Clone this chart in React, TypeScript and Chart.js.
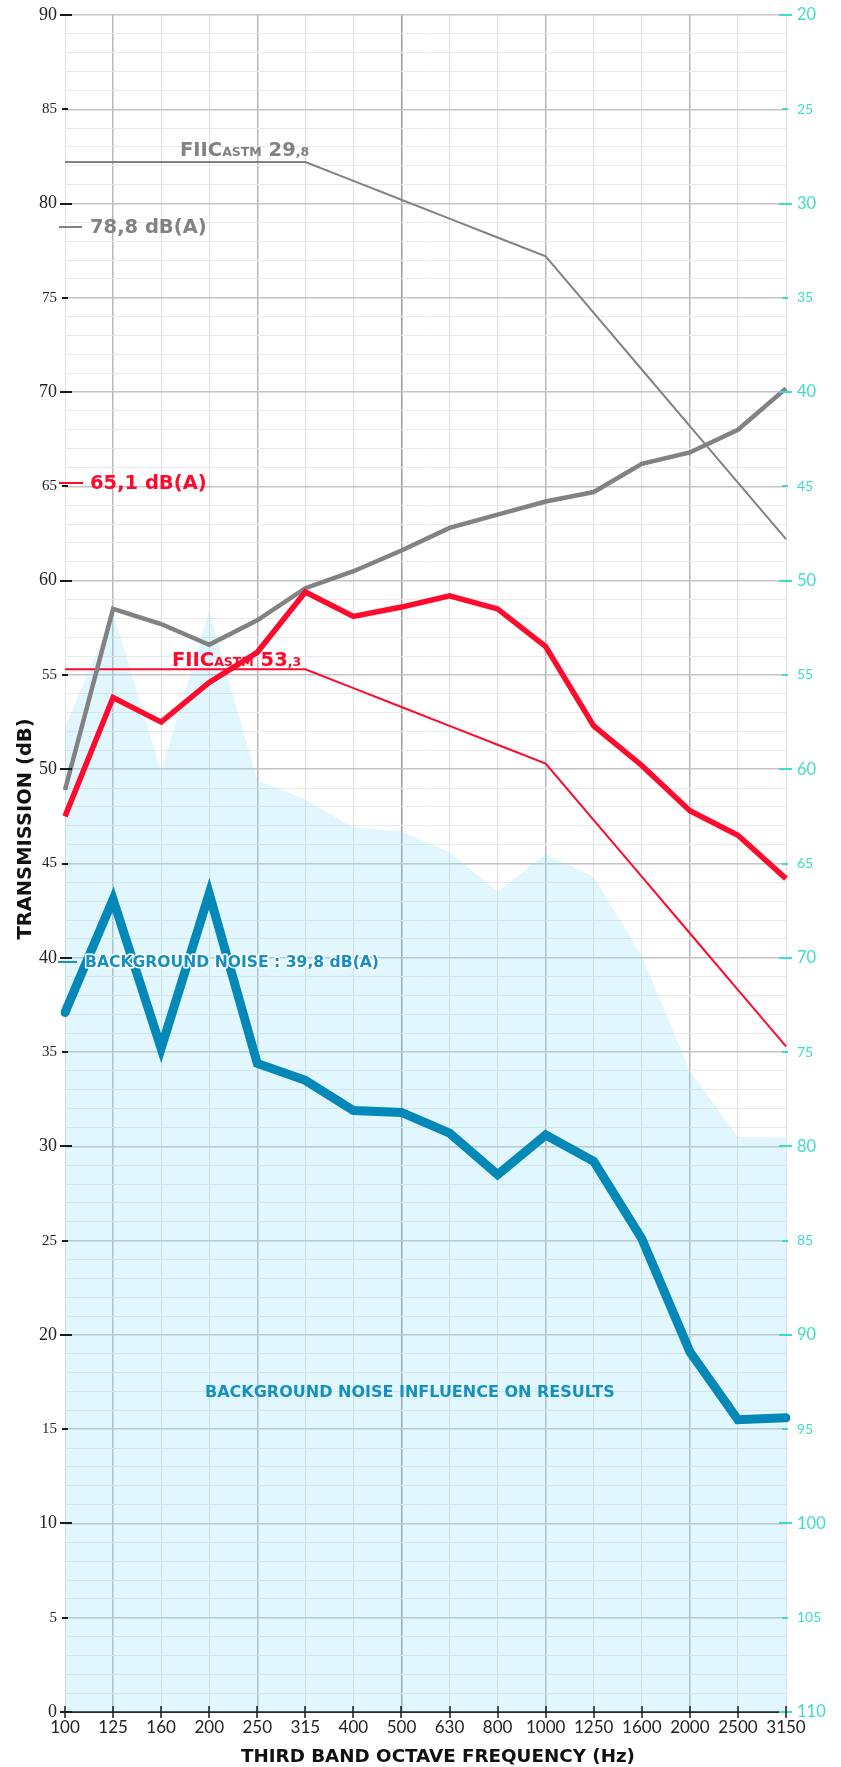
import React, { useEffect, useRef } from 'react';
import { Chart, registerables } from 'chart.js';

Chart.register(...registerables);

const frequencies = ['100', '125', '160', '200', '250', '315', '400', '500', '630', '800', '1000', '1250', '1600', '2000', '2500', '3150'];
const transmissionGray = [48.9, 58.5, 57.7, 56.6, 57.9, 59.6, 60.5, 61.6, 62.8, 63.5, 64.2, 64.7, 66.2, 66.8, 68.0, 70.2];
const contourGray = [82.2, 82.2, 82.2, 82.2, 82.2, 82.2, 81.2, 80.2, 79.2, 78.2, 77.2, 74.2, 71.2, 68.2, 65.2, 62.2];
const transmissionRed = [47.5, 53.8, 52.5, 54.6, 56.2, 59.4, 58.1, 58.6, 59.2, 58.5, 56.5, 52.3, 50.2, 47.8, 46.5, 44.2];
const contourRed = [55.3, 55.3, 55.3, 55.3, 55.3, 55.3, 54.3, 53.3, 52.3, 51.3, 50.3, 47.3, 44.3, 41.3, 38.3, 35.3];
const backgroundNoise = [37.1, 43.1, 35.2, 43.4, 34.4, 33.5, 31.9, 31.8, 30.7, 28.5, 30.6, 29.2, 25.1, 19.1, 15.5, 15.6];
const noiseInfluence = [52.2, 58.3, 49.9, 58.4, 49.4, 48.4, 46.9, 46.7, 45.6, 43.5, 45.5, 44.3, 40.1, 34.0, 30.5, 30.5];

const leftTickValues = [0, 5, 10, 15, 20, 25, 30, 35, 40, 45, 50, 55, 60, 65, 70, 75, 80, 85, 90];
const rightTickValues = [20, 25, 30, 35, 40, 45, 50, 55, 60, 65, 70, 75, 80, 85, 90, 95, 100, 105, 110];
const octaveLines = ['125', '250', '1000', '2000'];
const centerLine = '500';

const GRAY = '#828282';
const RED = '#ff0a2d';
const BLUE = '#0488b8';
const BLUE_TEXT = '#1590c0';
const CYAN = '#3fdcc8';
const BOLD = '"DejaVu Sans", sans-serif';

function rich(ctx: CanvasRenderingContext2D, x: number, y: number, parts: [string, number][], color: string) {
  ctx.fillStyle = color;
  ctx.textAlign = 'left';
  ctx.textBaseline = 'alphabetic';
  let cx = x;
  for (const [t, size] of parts) {
    ctx.font = `bold ${size}px ${BOLD}`;
    ctx.fillText(t, cx, y);
    cx += ctx.measureText(t).width;
  }
}

function dash(ctx: CanvasRenderingContext2D, x1: number, x2: number, y: number, color: string) {
  ctx.strokeStyle = color;
  ctx.lineWidth = 2;
  ctx.beginPath();
  ctx.moveTo(x1, y);
  ctx.lineTo(x2, y);
  ctx.stroke();
}

const noPad = (s: any) => {
  s.paddingTop = 0;
  s.paddingBottom = 0;
  s.paddingLeft = 0;
  s.paddingRight = 0;
};

const overlay = {
  id: 'overlay',
  afterDatasetsDraw(chart: any) {
    const ctx: CanvasRenderingContext2D = chart.ctx;
    ctx.save();
    rich(ctx, 180, 156, [['FIIC', 19.5], ['ASTM', 12.5], [' 29', 19.5], [',8', 12.5]], GRAY);
    dash(ctx, 59, 82, 227, GRAY);
    rich(ctx, 90, 233, [['78,8 dB(A)', 19.5]], GRAY);
    dash(ctx, 59, 83, 483, RED);
    rich(ctx, 90, 489, [['65,1 dB(A)', 19.5]], RED);
    rich(ctx, 172, 666, [['FIIC', 19.5], ['ASTM', 12.5], [' 53', 19.5], [',3', 12.5]], RED);
    dash(ctx, 58, 77, 962, BLUE_TEXT);
    ctx.font = `bold 15.6px ${BOLD}`;
    ctx.textAlign = 'left';
    ctx.textBaseline = 'alphabetic';
    ctx.lineJoin = 'round';
    ctx.strokeStyle = '#ffffff';
    ctx.lineWidth = 3;
    ctx.strokeText('BACKGROUND NOISE : 39,8 dB(A)', 85, 967);
    ctx.fillStyle = BLUE_TEXT;
    ctx.fillText('BACKGROUND NOISE : 39,8 dB(A)', 85, 967);
    ctx.font = `bold 16px ${BOLD}`;
    ctx.fillStyle = BLUE_TEXT;
    ctx.fillText('BACKGROUND NOISE INFLUENCE ON RESULTS', 205, 1397);
    ctx.restore();
  },
  afterDraw(chart: any) {
    const ctx: CanvasRenderingContext2D = chart.ctx;
    const y = chart.scales.y;
    const y2 = chart.scales.y2;
    const x = chart.scales.x;
    const { left, right, bottom } = chart.chartArea;
    ctx.save();
    ctx.strokeStyle = '#1a1a1a';
    ctx.lineWidth = 2;
    for (const v of leftTickValues) {
      const py = Math.round(y.getPixelForValue(v));
      const long = v % 10 === 0;
      ctx.beginPath();
      ctx.moveTo(left - (long ? 5 : 3), py);
      ctx.lineTo(left + (long ? 7 : 3), py);
      ctx.stroke();
    }
    ctx.strokeStyle = CYAN;
    for (const v of rightTickValues) {
      const py = Math.round(y2.getPixelForValue(v));
      const long = v % 10 === 0;
      ctx.beginPath();
      ctx.moveTo(right - (long ? 7 : 4), py);
      ctx.lineTo(right + (long ? 6 : 2), py);
      ctx.stroke();
    }
    ctx.strokeStyle = '#1a1a1a';
    ctx.lineWidth = 1.5;
    frequencies.forEach((_, i) => {
      const px = Math.round(x.getPixelForValue(i));
      ctx.beginPath();
      ctx.moveTo(px, bottom - 6);
      ctx.lineTo(px, bottom + 6);
      ctx.stroke();
    });
    ctx.fillStyle = '#111';
    ctx.font = `bold 18.3px ${BOLD}`;
    ctx.textAlign = 'left';
    ctx.textBaseline = 'alphabetic';
    ctx.fillText('THIRD BAND OCTAVE FREQUENCY (Hz)', 241, 1762);
    ctx.save();
    ctx.translate(31, 829);
    ctx.rotate(-Math.PI / 2);
    ctx.textAlign = 'center';
    ctx.font = `bold 19.5px ${BOLD}`;
    ctx.fillText('TRANSMISSION (dB)', 0, 0);
    ctx.restore();
    ctx.restore();
  },
};

export default function App() {
  const ref = useRef<HTMLCanvasElement | null>(null);
  useEffect(() => {
    document.body.style.margin = '0';
    if (!ref.current) return;
    const chart = new Chart(ref.current, {
      type: 'line',
      data: {
        labels: frequencies,
        datasets: [
          { label: 'Transmission red', data: transmissionRed, borderColor: RED, borderWidth: 5.5, pointRadius: 0, fill: false, tension: 0, order: 1 },
          { label: 'Transmission gray', data: transmissionGray, borderColor: GRAY, borderWidth: 4.5, pointRadius: 0, fill: false, tension: 0, order: 2 },
          { label: 'FIIC red', data: contourRed, borderColor: RED, borderWidth: 2, pointRadius: 0, fill: false, tension: 0, order: 3 },
          { label: 'FIIC gray', data: contourGray, borderColor: GRAY, borderWidth: 2, pointRadius: 0, fill: false, tension: 0, order: 4 },
          { label: 'Background noise', data: backgroundNoise, borderColor: BLUE, borderWidth: 9, borderCapStyle: 'round', borderJoinStyle: 'miter', pointRadius: 0, fill: false, tension: 0, order: 5 },
          { label: 'Noise influence', data: noiseInfluence, borderWidth: 0, borderColor: 'rgba(0,0,0,0)', backgroundColor: 'rgba(140,222,246,0.26)', pointRadius: 0, fill: 'origin', tension: 0, order: 6 },
        ],
      },
      options: {
        responsive: false,
        animation: false,
        devicePixelRatio: 1,
        layout: { padding: { top: 15, left: 0, right: 0, bottom: 0 } },
        plugins: { legend: { display: false }, tooltip: { enabled: false }, title: { display: false } },
        scales: {
          x: {
            type: 'category',
            offset: false,
            afterFit: (s: any) => { s.height = 55; noPad(s); },
            grid: {
              drawTicks: false,
              color: (c: any) => {
                const lab = frequencies[c.index];
                if (lab === centerLine) return '#9a9a9a';
                if (octaveLines.includes(lab)) return '#b8b8b8';
                return '#e0e0e0';
              },
              lineWidth: (c: any) => {
                const lab = frequencies[c.index];
                return lab === centerLine || octaveLines.includes(lab) ? 1.5 : 1;
              },
            },
            border: { display: true, color: '#2a2a2a', width: 2 },
            ticks: {
              color: '#222',
              font: { family: 'Lato, sans-serif', size: 17 },
              padding: 5,
              autoSkip: false,
              maxRotation: 0,
            },
          },
          y: {
            position: 'left',
            min: 0,
            max: 90,
            afterFit: (s: any) => { s.width = 65; noPad(s); },
            border: { display: false },
            grid: {
              drawTicks: false,
              color: (c: any) => (c.tick.value % 5 === 0 ? '#c4c4c4' : '#e9e9e9'),
              lineWidth: (c: any) => (c.tick.value % 5 === 0 ? 1.5 : 1),
            },
            ticks: {
              stepSize: 1,
              autoSkip: false,
              padding: 8,
              color: '#222',
              font: (c: any) => ({ family: '"Liberation Serif", serif', size: c.tick && c.tick.value % 10 === 0 ? 18 : 15 }),
              callback: (v: any) => (leftTickValues.includes(Number(v)) ? String(v) : ''),
            },
          },
          y2: {
            position: 'right',
            min: 20,
            max: 110,
            reverse: true,
            afterFit: (s: any) => { s.width = 55; noPad(s); },
            border: { display: false },
            grid: { display: false, drawTicks: false },
            ticks: {
              stepSize: 5,
              autoSkip: false,
              padding: 11,
              color: CYAN,
              font: (c: any) => ({ family: 'Lato, sans-serif', size: c.tick && c.tick.value % 10 === 0 ? 16.5 : 14 }),
              callback: (v: any) => (rightTickValues.includes(Number(v)) ? String(v) : ''),
            },
          },
        },
      },
      plugins: [overlay],
    } as any);
    return () => chart.destroy();
  }, []);
  return <canvas ref={ref} width={841} height={1767} style={{ display: 'block' }} />;
}
